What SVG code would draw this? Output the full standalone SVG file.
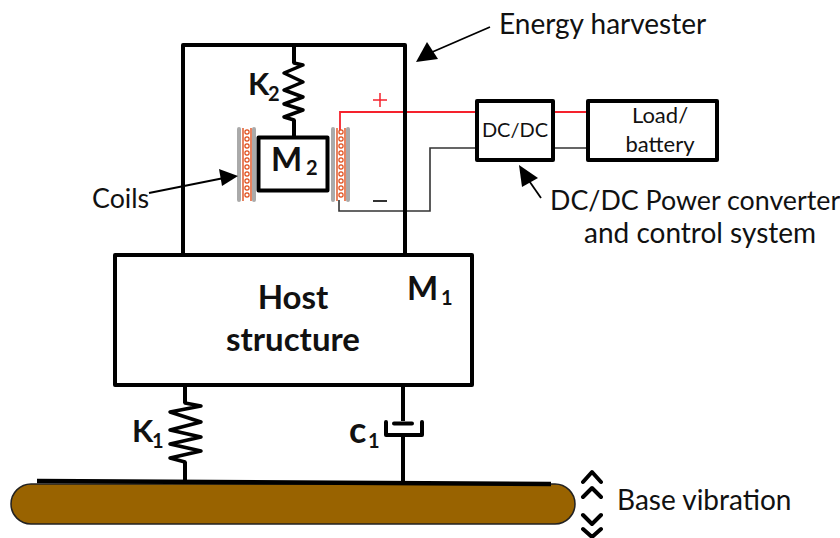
<svg xmlns="http://www.w3.org/2000/svg" width="840" height="538" viewBox="0 0 840 538">
<defs>
<style>
.b{fill:#fff;stroke:#000;stroke-width:4;stroke-linejoin:round}
.n{fill:none;stroke:#000;stroke-width:4;stroke-linejoin:round}
.s{fill:none;stroke:#000;stroke-width:3.500;stroke-linejoin:round;stroke-linecap:round}
.th{fill:none;stroke:#333;stroke-width:1.6}
.r{fill:none;stroke:#f5222d;stroke-width:1.8}
.g{fill:none;stroke:#aaa;stroke-width:4;stroke-linecap:round}
.o{fill:none;stroke:#e0501e;stroke-width:1.4}
.ci{fill:#fff;stroke:#e0501e;stroke-width:1.2}
.l{stroke:#000;stroke-width:1.8}
text{font-family:"Lato","Open Sans","Liberation Sans",sans-serif;fill:#111}
.t{font-size:26.800px}
.t2{font-size:28px}
.m{font-size:20px}
.m2{font-size:22px}
.h{font-weight:700;font-size:33px}
.k{font-weight:700;font-size:31px}
.c{font-weight:700;font-size:36px}
.u{font-weight:700;font-size:20px}
</style>
<g id="coil">
<path class="g" d="M0 129V200M15 129V200"/>
<path class="o" d="M4 128V201M12 128V201"/>
<g class="ci"><circle cx="8" cy="132" r="2.1"/><circle cx="8" cy="139" r="2.1"/><circle cx="8" cy="146" r="2.1"/><circle cx="8" cy="153" r="2.1"/><circle cx="8" cy="160" r="2.1"/><circle cx="8" cy="167" r="2.1"/><circle cx="8" cy="174" r="2.1"/><circle cx="8" cy="181" r="2.1"/><circle cx="8" cy="188" r="2.1"/><circle cx="8" cy="195" r="2.1"/></g>
</g>
</defs>
<rect width="840" height="538" fill="#fff"/>
<g id="connectors">
<path class="r" d="M340 130V112H477M553 112H588"/>
<path class="th" d="M339 200V211H430V148H477M553 148H588"/>
<path class="n" d="M294 45V63M294 120V137M185 386V403M185 462V480M403 386V421M403 436V482"/>
<path class="s" d="M294 63L303 65L284 73L303 82L284 90L303 97L284 104L303 110L284 117L294 120"/>
<path class="s" d="M185 403L201 406L170 412L201 422L170 430L201 437L170 444L201 451L170 458L185 462"/>
<path class="n" stroke-linecap="round" d="M386 422V435H422V422"/>
<path class="n" stroke-linecap="round" d="M394 423.500H412"/>
</g>
<g id="energy-harvester"><path class="n" d="M183 254V45H405V254"/><text class="t2" x="499" y="34">Energy harvester</text>
<path class="l" d="M490 27L430 53"/><path d="M416 62L427 42L438 59z" fill="#000"/></g>
<g id="k2"><text class="k" x="248" y="95">K</text><text class="u" x="268" y="101">2</text></g>
<g id="coil-left"><use href="#coil" x="239"/></g>
<g id="coil-right"><use href="#coil" x="333"/></g>
<g id="m2"><rect class="b" x="258.500" y="137.500" width="69" height="53"/><text class="h" x="271" y="171">M</text><text class="u" x="306" y="175">2</text></g>
<g id="coils-label"><text class="t" x="92" y="208">Coils</text><path class="l" d="M149 193L224 178"/><path d="M238 176L219 169L222 186z" fill="#000"/></g>
<g id="polarity"><path d="M373 100H387M380 93V107" stroke="#f5222d" stroke-width="1.5" fill="none"/><path d="M373 201H387" stroke="#333" stroke-width="2" fill="none"/></g>
<g id="dcdc"><rect class="b" x="477" y="101" width="76" height="59"/><text class="m" x="515" y="137" text-anchor="middle">DC/DC</text></g>
<g id="load"><rect class="b" x="588" y="101" width="129" height="59"/><text class="m2" x="660" y="123" text-anchor="middle">Load/</text><text class="m2" x="660" y="152" text-anchor="middle">battery</text></g>
<g id="dcdc-label"><path class="l" d="M541 198L525 175"/><path d="M519 165L538 178L522 187z" fill="#000"/><text class="t" x="550" y="210">DC/DC Power converter</text><text class="t2" x="584" y="243">and control system</text></g>
<g id="host"><rect class="b" x="115" y="255" width="357" height="130"/><text class="h" x="293" y="309" text-anchor="middle">Host</text><text class="h" x="293" y="351" text-anchor="middle">structure</text><text class="h" x="407" y="300">M</text><text class="u" x="441" y="305">1</text></g>
<g id="k1"><text class="k" x="132" y="442">K</text><text class="u" x="152" y="448">1</text></g>
<g id="c1"><text class="c" x="349" y="443">c</text><text class="u" x="368" y="448">1</text></g>
<g id="base"><rect x="11" y="484" width="564" height="40" rx="20" fill="#996300" stroke="#222" stroke-width="1.500"/><path d="M37 481L551 484" stroke="#000" stroke-width="4.500" fill="none"/></g>
<g id="vibration"><path class="n" stroke-linecap="round" d="M583 482L592 472L601 482M583 497L592 488L601 497M583 515L592 524L601 515M583 529L592 537L601 529" stroke-width="3.500"/><text class="t2" x="617" y="510">Base vibration</text></g>
</svg>
